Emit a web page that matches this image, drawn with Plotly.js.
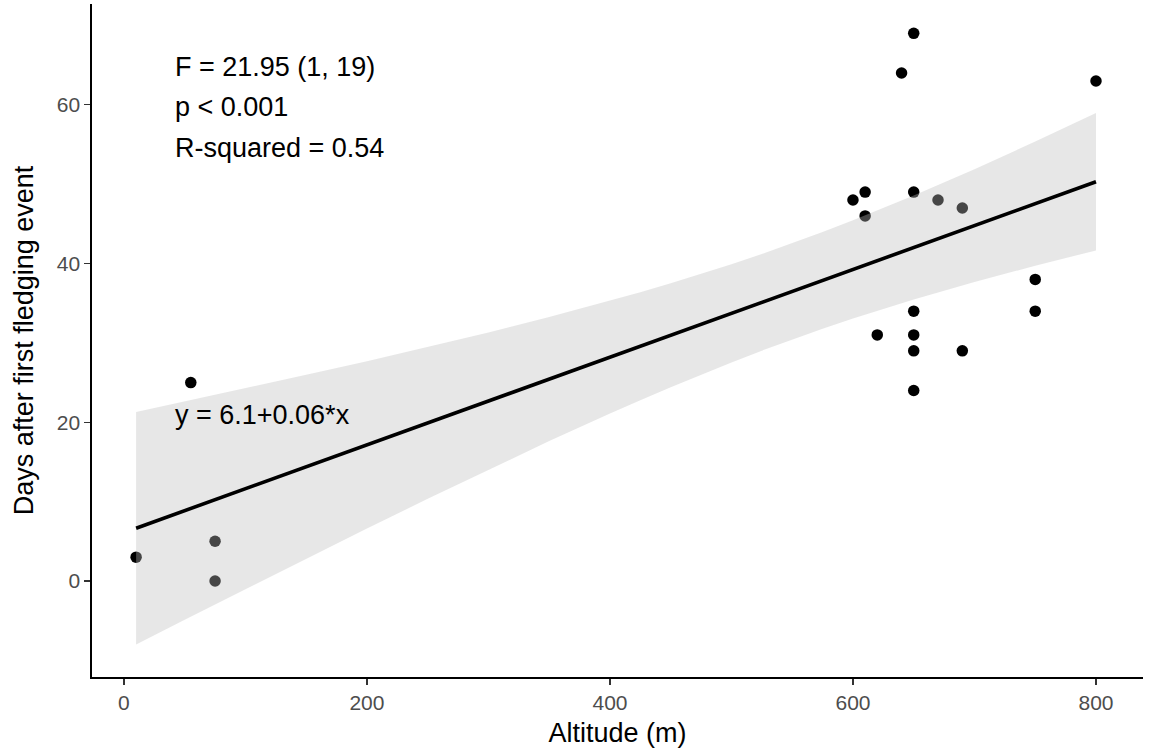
<!DOCTYPE html>
<html>
<head>
<meta charset="utf-8">
<script src="https://cdn.plot.ly/plotly-3.0.1.min.js"></script>
<style>
  html, body { margin: 0; padding: 0; background: #ffffff; }
  #chart { width: 1152px; height: 749px; }
</style>
</head>
<body>
<div id="chart"></div>
<script>
// Observations
var altitude = [10, 55, 75, 75, 600, 610, 610, 620, 640, 650, 650, 650, 650, 650, 650, 670, 690, 690, 750, 750, 800];
var days     = [3, 25, 5, 0, 48, 49, 46, 31, 64, 69, 49, 34, 31, 29, 24, 48, 47, 29, 38, 34, 63];

// Fitted line
var fitX = [10, 800];
var fitY = [6.65, 50.30];

// 95% confidence band
var bandX     = [10, 50, 100, 150, 200, 250, 300, 350, 400, 425, 450, 475, 500, 525, 550, 575, 600, 625, 650, 700, 750, 800];
var bandLower = [-7.99, -4.89, -1.03, 2.81, 6.60, 10.35, 14.03, 17.63, 21.10, 22.78, 24.42, 26.01, 27.54, 29.02, 30.43, 31.78, 33.06, 34.29, 35.47, 37.67, 39.72, 41.65];
var bandUpper = [21.29, 22.60, 24.27, 25.97, 27.70, 29.48, 31.32, 33.25, 35.30, 36.38, 37.51, 38.68, 39.91, 41.20, 42.55, 43.96, 45.44, 46.97, 48.57, 51.89, 55.36, 58.96];

// Tick values and labels
var xTicks = [0, 200, 400, 600, 800];
var yTicks = [0, 20, 40, 60];

// Annotation texts
var statLines = ["F = 21.95 (1, 19)", "p < 0.001", "R-squared = 0.54"];
var statY = [64.8, 59.75, 54.6];
var equationText = "y = 6.1+0.06*x";

var FONT = "Liberation Sans, Arial, Helvetica, sans-serif";

var polyX = bandX.concat(bandX.slice().reverse());
var polyY = bandUpper.concat(bandLower.slice().reverse());

var traces = [
  {
    type: "scatter", mode: "markers",
    x: altitude, y: days,
    marker: { color: "#000000", size: 11.5, line: { width: 0 } },
    hoverinfo: "skip", showlegend: false
  },
  {
    type: "scatter", mode: "lines",
    x: polyX, y: polyY,
    fill: "toself", fillcolor: "rgba(190,190,190,0.37)",
    line: { width: 0, color: "rgba(0,0,0,0)" },
    hoverinfo: "skip", showlegend: false
  },
  {
    type: "scatter", mode: "lines",
    x: fitX, y: fitY,
    line: { color: "#000000", width: 3.6 },
    hoverinfo: "skip", showlegend: false
  }
];

var annotations = statLines.map(function (t, i) {
  return {
    xref: "x", yref: "y", x: 40, y: statY[i],
    text: t, showarrow: false, xanchor: "left", yanchor: "middle",
    font: { family: FONT, size: 27, color: "#000000" }
  };
});
annotations.push({
  xref: "x", yref: "y", x: 40, y: 20.9,
  text: equationText, showarrow: false, xanchor: "left", yanchor: "middle",
  font: { family: FONT, size: 27, color: "#000000" }
});

var layout = {
  width: 1152, height: 749,
  margin: { l: 92, r: 9, t: 4, b: 72, pad: 0 },
  paper_bgcolor: "#ffffff", plot_bgcolor: "#ffffff",
  font: { family: FONT },
  showlegend: false,
  xaxis: {
    range: [-26.3, 838.7], autorange: false,
    tickvals: xTicks, ticktext: xTicks.map(String),
    ticks: "outside", ticklen: 6, tickwidth: 1.3, tickcolor: "#333333",
    tickfont: { family: FONT, size: 21, color: "#4d4d4d" },
    showline: true, linecolor: "#000000", linewidth: 1.7,
    showgrid: false, zeroline: false, automargin: false,
    title: { text: "Altitude (m)", font: { family: FONT, size: 27, color: "#000000" }, standoff: 10 }
  },
  yaxis: {
    range: [-12.1, 72.7], autorange: false,
    tickvals: yTicks, ticktext: yTicks.map(String),
    ticks: "outside", ticklen: 6, tickwidth: 1.3, tickcolor: "#333333",
    tickfont: { family: FONT, size: 21, color: "#4d4d4d" },
    showline: true, linecolor: "#000000", linewidth: 1.7,
    showgrid: false, zeroline: false, automargin: false,
    title: { text: "Days after first fledging event", font: { family: FONT, size: 27, color: "#000000" }, standoff: 15 }
  },
  annotations: annotations
};

Plotly.newPlot("chart", traces, layout, { displayModeBar: false, staticPlot: true });
</script>
</body>
</html>
